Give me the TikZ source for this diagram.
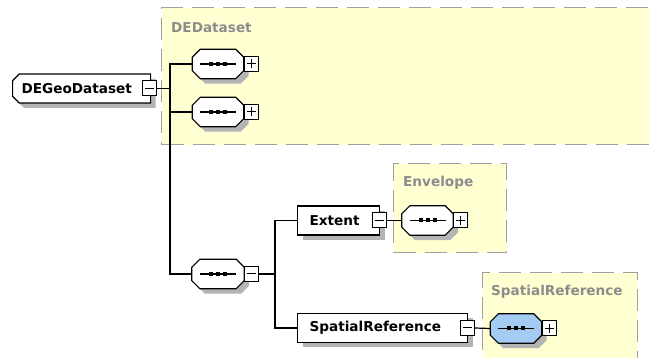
\documentclass[tikz,border=0pt]{standalone}
\usepackage{fontspec}
\setmainfont{DejaVu Sans}
\usetikzlibrary{shapes.misc,shadows}
\definecolor{boxyellow}{HTML}{FFFFD2}
\definecolor{dashgray}{HTML}{A0A0A0}
\definecolor{labgray}{HTML}{8C8C8C}
\definecolor{shadowgray}{HTML}{B4B4B4}
\definecolor{seqblue}{HTML}{A4CCF2}
\newcommand{\octagonpath}[3]{([xshift={8pt+#2},yshift={-#3}]#1.north west) -- ([xshift={-8pt+#2},yshift={-#3}]#1.north east) -- ([xshift={#2},yshift={-8pt-#3}]#1.north east) -- ([xshift={#2},yshift={8pt-#3}]#1.south east) -- ([xshift={-8pt+#2},yshift={-#3}]#1.south east) -- ([xshift={8pt+#2},yshift={-#3}]#1.south west) -- ([xshift={#2},yshift={8pt-#3}]#1.south west) -- ([xshift={#2},yshift={-8pt-#3}]#1.north west) -- cycle}
\tikzset{
  groupbox/.style={draw=dashgray, fill=boxyellow, line width=1.4pt, dash pattern=on 22pt off 9pt, inner sep=0pt, anchor=north west},
  grouplabel/.style={text=labgray, inner sep=0pt, anchor=west},
  shade5/.style={general shadow={fill=shadowgray, shadow xshift=5pt, shadow yshift=-5pt}},
  elem/.style={draw, fill=white, line width=1.2pt, minimum height=29pt, inner ysep=0pt, align=left, anchor=west, shade5},
  pm/.style={draw, fill=white, line width=1pt, minimum width=14pt, minimum height=15pt, inner sep=0pt},
  minusbox/.style={pm, path picture={\draw[line width=1pt] ([xshift=-4.5pt]path picture bounding box.center) -- ([xshift=4.5pt]path picture bounding box.center);}},
  plusbox/.style={pm, path picture={\draw[line width=1pt] ([xshift=-4.5pt]path picture bounding box.center) -- ([xshift=4.5pt]path picture bounding box.center);
     \draw[line width=1pt] ([yshift=-4.5pt]path picture bounding box.center) -- ([yshift=4.5pt]path picture bounding box.center);}},
  seqnode/.style={rectangle, minimum width=51pt, minimum height=29pt, inner sep=0pt,
     append after command={\pgfextra{
       \fill[shadowgray] \octagonpath{\tikzlastnode}{5pt}{5pt};
       \draw[line width=1.2pt, fill=#1] \octagonpath{\tikzlastnode}{0pt}{0pt};
       \draw[line width=1.1pt] ([xshift=-18pt]\tikzlastnode.center) -- ([xshift=18pt]\tikzlastnode.center);
       \foreach \d in {-7,0,7} \fill[black] ([xshift=\d pt]\tikzlastnode.center) +(-2pt,-2pt) rectangle +(2pt,2pt);
     }}},
  seqnode/.default=white,
  conn/.style={line width=1.2pt, draw=black}
}
\begin{document}
\begin{tikzpicture}[x=1pt,y=-1pt, font=\bfseries\fontsize{13.6}{16}\selectfont]
\useasboundingbox (0,0) rectangle (649,358);
\fill[white] (0,0) rectangle (649,358);
\begin{scope}
\clip (0,0) rectangle (649,358);
% group boxes
\node[groupbox, minimum width=500pt, minimum height=137pt] (dedataset) at (161,7) {};
\node[groupbox, minimum width=113pt, minimum height=89pt] (envelope) at (393,163) {};
\node[groupbox, minimum width=155pt, minimum height=100pt] (spgroup) at (482,272) {};
\node[grouplabel] (dedlabel) at (171,28) {DEDataset};
\node[grouplabel] (envlabel) at (403,183) {Envelope};
\node[grouplabel] (splabel) at (491,292) {SpatialReference};

% junctions
\coordinate (j1) at (170,0);
\coordinate (j2) at (275,0);

% elements
\node[elem, chamfered rectangle, chamfered rectangle corners={north west,south west}, chamfered rectangle xsep=3pt, inner xsep=6pt, text width=120pt] (geo) at (12,88.5) {DEGeoDataset};
\node[elem, inner xsep=12pt, text width=58pt] (extent) at (297,220.5) {Extent};
\node[elem, inner xsep=12pt, text width=146pt] (spref) at (297,328) {SpatialReference};

% sequences
\node[seqnode] (s1) at (218,64) {};
\node[seqnode] (s2) at (218,112) {};
\node[seqnode, minimum width=52pt] (s3) at (218,274) {};
\node[seqnode] (s4) at (427.5,220.5) {};
\node[seqnode=seqblue] (s5) at (516,328.5) {};

% plus / minus boxes
\node[minusbox] (geom) at ([xshift=-1.5pt]geo.east) {};
\node[minusbox] (extm) at ([xshift=-1pt]extent.east) {};
\node[minusbox] (sprm) at ([xshift=-1pt]spref.east) {};
\node[plusbox, anchor=west] (s1p) at (s1.east) {};
\node[plusbox, anchor=west] (s2p) at (s2.east) {};
\node[minusbox, anchor=west] (s3m) at (s3.east) {};
\node[plusbox, anchor=west] (s4p) at (s4.east) {};
\node[plusbox, anchor=west] (s5p) at (s5.east) {};

% connectors
\draw[conn] (geom.east) -- (geom.east -| j1);
\draw[conn] (s1.west) -- (s1.west -| j1) |- (s3.west);
\draw[conn] (s2.west) -- (s2.west -| j1);
\draw[conn] (s3m.east) -- (s3m.east -| j2);
\draw[conn] (extent.west) -- (extent.west -| j2) |- (spref.west);
\draw[conn] (extm.east) -- (s4.west);
\draw[conn] (sprm.east) -- (s5.west);
\end{scope}
\end{tikzpicture}
\end{document}
